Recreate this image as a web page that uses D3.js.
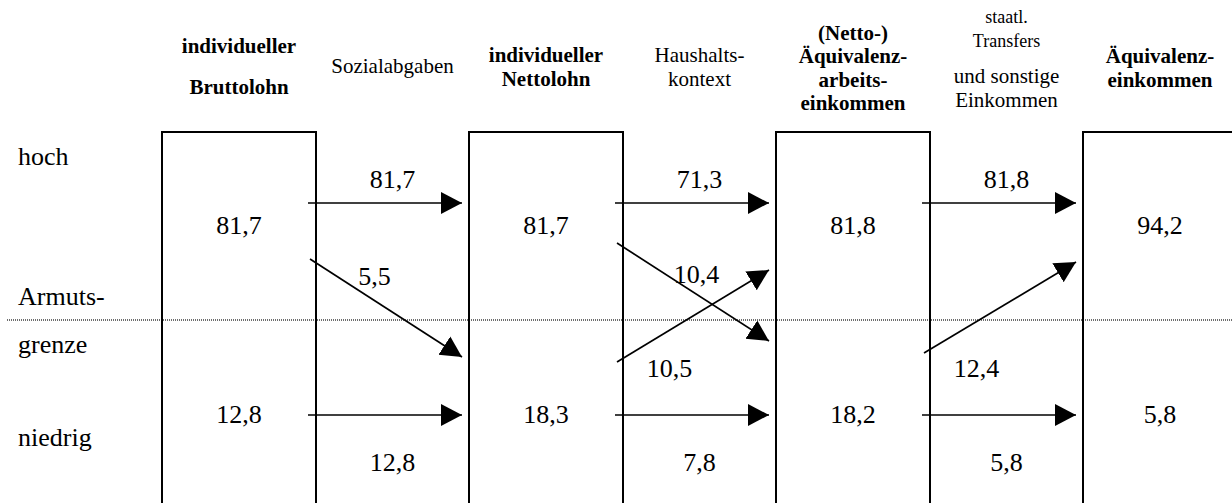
<!DOCTYPE html>
<html>
<head>
<meta charset="utf-8">
<script src="https://cdn.jsdelivr.net/npm/d3@7"></script>
<style>
  body { margin: 0; background: #fff; }
  svg { display: block; }
  text { font-family: "Liberation Serif", "DejaVu Serif", serif; fill: #000; }
</style>
</head>
<body>
<svg id="chart" width="1232" height="503"></svg>
<script>
// stages (boxes) and the transitions between them
const stageLabels = [
    ["individueller", "Bruttolohn"],
    ["individueller", "Nettolohn"],
    ["(Netto-)", "Äquivalenz-", "arbeits-", "einkommen"],
    ["Äquivalenz-", "einkommen"]
];
const transitionLabels = [
    ["Sozialabgaben"],
    ["Haushalts-", "kontext"],
    ["staatl.", "Transfers", "und sonstige", "Einkommen"]
];
const levelLabels = ["hoch", "Armuts-", "grenze", "niedrig"];

// shares in the stage above / below the poverty line
const highValues = [81.7, 81.7, 81.8, 94.2];
const lowValues = [12.8, 18.3, 18.2, 5.8];
// flows between stages
const stayHigh = [81.7, 71.3, 81.8];
const highToLow = [5.5, 10.4, null];
const lowToHigh = [null, 10.5, 12.4];
const stayLow = [12.8, 7.8, 5.8];

// layout only
const W = 1232, H = 503;
const BOX_W = 154, BOX_TOP = 132;
const SERIF = "'Liberation Serif', 'Times New Roman', 'DejaVu Serif', serif";
const stageBaselines = [[53, 94], [62, 86], [40, 63, 87, 110], [63, 87]];
const transitionBaselines = [[73], [62, 86], [23, 47, 83, 107]];
const transitionSizes = [[21], [21, 21], [18, 18, 21, 21]];
const levelBaselines = [165, 305, 353, 446];
const downPath = [[-61, 37], [-77, 21], null];   // relative to poverty line
const upPath = [null, [42, -50], [33, -58]];
const downLabelDx = [-18, -3, 0];

const svg = d3.select("#chart").attr("font-family", SERIF);
const de = d3.formatLocale({decimal: ",", thousands: ".", grouping: [3], currency: ["", " €"]});
const fmt = de.format(".1f");

const x = d3.scaleLinear().domain([0, stageLabels.length - 1]).range([239, 239 + 3 * 307]);
// vertical positions of the rows
const y = d3.scaleOrdinal()
    .domain(["topArrow", "highValue", "poverty", "lowValue", "bottomArrow", "highLabel", "lowLabel"])
    .range([203, 234, 320, 423, 415, 188, 471]);

const defs = svg.append("defs");
defs.append("marker")
    .attr("id", "head")
    .attr("markerUnits", "userSpaceOnUse")
    .attr("markerWidth", 24).attr("markerHeight", 24)
    .attr("viewBox", "0 -12 24 24")
    .attr("refX", 21).attr("refY", 0)
    .attr("orient", "auto")
  .append("path")
    .attr("d", "M0,-11L21,0L0,11Z")
    .attr("fill", "#000");

// poverty line
svg.append("line")
    .attr("x1", 7).attr("x2", W)
    .attr("y1", y("poverty")).attr("y2", y("poverty"))
    .attr("stroke", "#6e6e6e")
    .attr("stroke-width", 2)
    .attr("stroke-dasharray", "1,1");

// boxes
svg.selectAll("rect.stage")
    .data(stageLabels)
    .join("rect")
    .attr("class", "stage")
    .attr("x", (d, i) => x(i) - BOX_W / 2)
    .attr("y", BOX_TOP)
    .attr("width", BOX_W)
    .attr("height", H)
    .attr("fill", "none")
    .attr("stroke", "#000")
    .attr("stroke-width", 2);

// headers
stageLabels.forEach((lines, i) => {
    svg.append("g").selectAll("text")
        .data(lines)
        .join("text")
        .attr("x", x(i))
        .attr("y", (d, j) => stageBaselines[i][j])
        .attr("text-anchor", "middle")
        .attr("font-family", SERIF)
        .attr("font-weight", "bold")
        .attr("font-size", 21)
        .text(d => d);
});
transitionLabels.forEach((lines, i) => {
    svg.append("g").selectAll("text")
        .data(lines)
        .join("text")
        .attr("x", x(i + 0.5))
        .attr("y", (d, j) => transitionBaselines[i][j])
        .attr("text-anchor", "middle")
        .attr("font-family", SERIF)
        .attr("font-size", (d, j) => transitionSizes[i][j])
        .text(d => d);
});

// level labels on the left
svg.append("g").selectAll("text")
    .data(levelLabels)
    .join("text")
    .attr("x", 18)
    .attr("y", (d, i) => levelBaselines[i])
    .attr("font-family", SERIF)
    .attr("font-size", 26)
    .text(d => d);

// values inside boxes
const valueText = (sel) => sel.attr("text-anchor", "middle").attr("font-family", SERIF).attr("font-size", 26);
svg.append("g").selectAll("text")
    .data(highValues)
    .join("text")
    .attr("x", (d, i) => x(i))
    .attr("y", y("highValue"))
    .call(valueText)
    .text(fmt);
svg.append("g").selectAll("text")
    .data(lowValues)
    .join("text")
    .attr("x", (d, i) => x(i))
    .attr("y", y("lowValue"))
    .call(valueText)
    .text(fmt);

// arrows
const arrow = (x1, y1, x2, y2) => svg.append("line")
    .attr("x1", x1).attr("y1", y1)
    .attr("x2", x2).attr("y2", y2)
    .attr("stroke", "#000")
    .attr("stroke-width", 1.7)
    .attr("marker-end", "url(#head)");

const gapStart = i => x(i) + BOX_W / 2 - 8;
const gapEnd = i => x(i + 1) - BOX_W / 2 - 7;

stayHigh.forEach((v, i) => {
    arrow(gapStart(i), y("topArrow"), gapEnd(i), y("topArrow"));
    svg.append("text").attr("x", x(i + 0.5)).attr("y", y("highLabel")).call(valueText).text(fmt(v));
});
stayLow.forEach((v, i) => {
    arrow(gapStart(i), y("bottomArrow"), gapEnd(i), y("bottomArrow"));
    svg.append("text").attr("x", x(i + 0.5)).attr("y", y("lowLabel")).call(valueText).text(fmt(v));
});
highToLow.forEach((v, i) => {
    if (v == null) return;
    const p = downPath[i];
    arrow(gapStart(i) + 2, y("poverty") + p[0], gapEnd(i), y("poverty") + p[1]);
    svg.append("text")
        .attr("x", x(i + 0.5) + downLabelDx[i])
        .attr("y", i == 0 ? 285 : 283)
        .call(valueText).text(fmt(v));
});
lowToHigh.forEach((v, i) => {
    if (v == null) return;
    const p = upPath[i];
    arrow(gapStart(i) + 2, y("poverty") + p[0], gapEnd(i), y("poverty") + p[1]);
    svg.append("text")
        .attr("x", x(i + 0.5) - 30)
        .attr("y", 377)
        .call(valueText).text(fmt(v));
});
</script>
</body>
</html>
